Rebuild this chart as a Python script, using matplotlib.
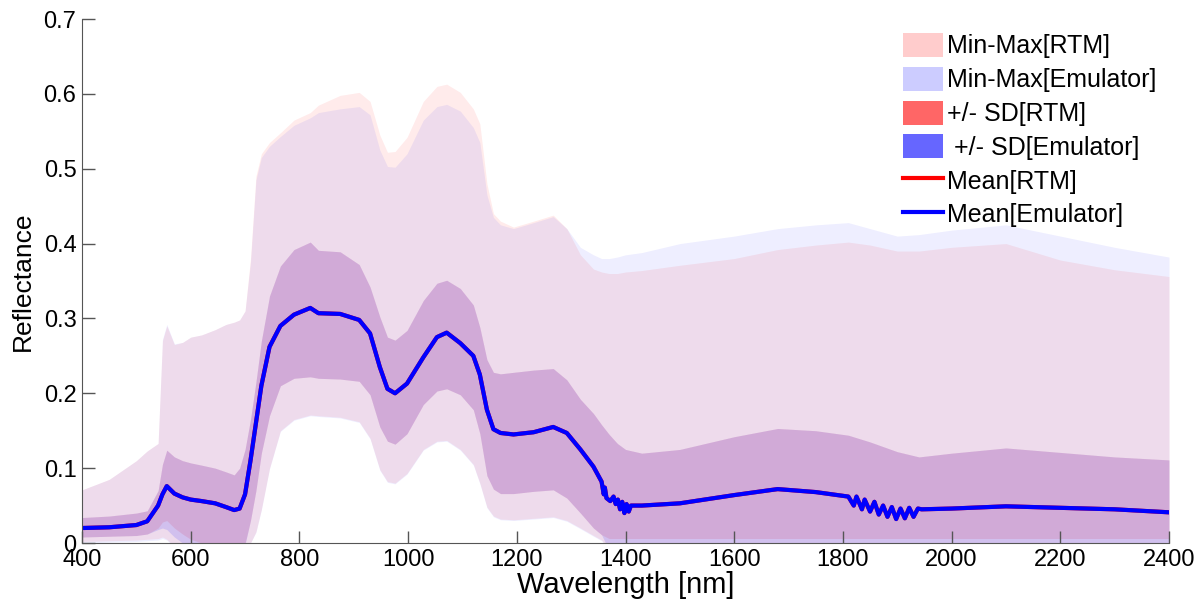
import numpy as np
import matplotlib
matplotlib.use("Agg")
import matplotlib.pyplot as plt
from matplotlib.patches import Patch
from matplotlib.lines import Line2D

plt.rcParams['font.family'] = ['Liberation Sans', 'DejaVu Sans']

# wavelength knots (nm) for the envelope curves
wl = [400, 450, 500, 520, 540, 548, 556, 570, 585, 600, 620, 645, 665, 680, 690,
      700, 710, 720, 730, 745, 765, 790, 820, 835, 875, 910, 930, 948, 962, 976,
      998, 1028, 1053, 1071, 1096, 1120, 1132, 1145, 1157, 1170, 1194, 1231, 1267,
      1292, 1317, 1341, 1356, 1370, 1385, 1400, 1430, 1500, 1600, 1680, 1750, 1810,
      1850, 1900, 1940, 2000, 2100, 2200, 2300, 2400]

max_rtm = [0.071, 0.085, 0.110, 0.123, 0.133, 0.270, 0.290, 0.265, 0.268, 0.275, 0.278,
           0.285, 0.292, 0.295, 0.298, 0.310, 0.380, 0.490, 0.520, 0.535, 0.548, 0.565,
           0.575, 0.585, 0.598, 0.602, 0.590, 0.545, 0.522, 0.523, 0.542, 0.590, 0.610,
           0.613, 0.602, 0.580, 0.560, 0.480, 0.440, 0.430, 0.422, 0.430, 0.438, 0.420,
           0.385, 0.366, 0.362, 0.360, 0.360, 0.362, 0.364, 0.371, 0.380, 0.392, 0.398,
           0.402, 0.398, 0.390, 0.390, 0.395, 0.400, 0.378, 0.365, 0.356]

max_emu = [0.071, 0.085, 0.110, 0.123, 0.133, 0.272, 0.292, 0.266, 0.268, 0.275, 0.278,
           0.285, 0.292, 0.295, 0.298, 0.310, 0.375, 0.485, 0.515, 0.530, 0.543, 0.558,
           0.568, 0.575, 0.580, 0.583, 0.572, 0.525, 0.503, 0.502, 0.520, 0.565, 0.583,
           0.586, 0.577, 0.555, 0.535, 0.465, 0.435, 0.425, 0.420, 0.428, 0.436, 0.420,
           0.395, 0.385, 0.380, 0.380, 0.382, 0.385, 0.388, 0.400, 0.410, 0.420, 0.425,
           0.428, 0.420, 0.410, 0.412, 0.418, 0.425, 0.410, 0.395, 0.382]

min_rtm = [0.002, 0.003, 0.004, 0.005, 0.006, 0.008, 0.005, -0.005, -0.01, -0.01, -0.01,
           -0.01, -0.01, -0.01, -0.01, -0.005, 0.0, 0.015, 0.045, 0.100, 0.150, 0.165,
           0.171, 0.170, 0.168, 0.162, 0.140, 0.098, 0.082, 0.080, 0.093, 0.125, 0.136,
           0.137, 0.125, 0.105, 0.080, 0.048, 0.036, 0.032, 0.031, 0.033, 0.035, 0.030,
           0.020, 0.010, 0.004, -0.01, -0.01, -0.01, -0.01, -0.01, -0.01, -0.01, -0.01,
           -0.01, -0.01, -0.01, -0.01, -0.01, -0.01, -0.01, -0.01, -0.01]

min_emu = [0.0, 0.001, 0.002, 0.003, 0.004, 0.006, 0.004, -0.006, -0.01, -0.01, -0.01,
           -0.01, -0.01, -0.01, -0.01, -0.005, 0.0, 0.014, 0.044, 0.099, 0.149, 0.164,
           0.170, 0.169, 0.167, 0.161, 0.139, 0.097, 0.081, 0.079, 0.092, 0.124, 0.135,
           0.136, 0.124, 0.104, 0.079, 0.047, 0.035, 0.031, 0.030, 0.032, 0.034, 0.029,
           0.019, 0.009, 0.003, -0.01, -0.01, -0.01, -0.01, -0.01, -0.01, -0.01, -0.01,
           -0.01, -0.01, -0.01, -0.01, -0.01, -0.01, -0.01, -0.01, -0.01]

sd_up = [0.034, 0.036, 0.040, 0.043, 0.070, 0.105, 0.124, 0.115, 0.110, 0.107, 0.104,
         0.100, 0.095, 0.091, 0.100, 0.125, 0.165, 0.215, 0.270, 0.330, 0.370, 0.392,
         0.402, 0.391, 0.389, 0.372, 0.342, 0.302, 0.275, 0.271, 0.284, 0.324, 0.347,
         0.351, 0.340, 0.318, 0.288, 0.245, 0.228, 0.226, 0.228, 0.231, 0.233, 0.218,
         0.192, 0.173, 0.158, 0.145, 0.133, 0.125, 0.120, 0.125, 0.142, 0.153, 0.150,
         0.144, 0.135, 0.122, 0.115, 0.120, 0.127, 0.121, 0.115, 0.111]

sd_lo_rtm = [0.008, 0.009, 0.010, 0.012, 0.020, 0.028, 0.030, 0.020, 0.012, 0.005, 0.0,
             -0.005, -0.008, -0.01, -0.01, 0.0, 0.030, 0.070, 0.120, 0.170, 0.210, 0.220,
             0.222, 0.220, 0.219, 0.216, 0.198, 0.155, 0.136, 0.132, 0.146, 0.185, 0.203,
             0.206, 0.198, 0.178, 0.146, 0.090, 0.072, 0.066, 0.066, 0.069, 0.071, 0.060,
             0.040, 0.020, 0.011, 0.006, 0.006, 0.006, 0.006, 0.006, 0.006, 0.006, 0.006,
             0.006, 0.006, 0.006, 0.006, 0.006, 0.006, 0.006, 0.006, 0.006]

sd_lo_emu = [0.008, 0.009, 0.010, 0.012, 0.018, 0.020, 0.018, 0.008, 0.0, -0.005, -0.01,
             -0.012, -0.014, -0.015, -0.012, -0.002, 0.030, 0.070, 0.120, 0.170, 0.210, 0.220,
             0.222, 0.220, 0.219, 0.216, 0.198, 0.155, 0.136, 0.132, 0.146, 0.185, 0.203,
             0.206, 0.198, 0.178, 0.146, 0.090, 0.072, 0.066, 0.066, 0.069, 0.071, 0.060,
             0.040, 0.020, 0.011, -0.01, -0.01, -0.01, -0.01, -0.01, -0.01, -0.01, -0.01,
             -0.01, -0.01, -0.01, -0.01, -0.01, -0.01, -0.01, -0.01, -0.01]

# mean spectrum, own knots (noisy water-absorption regions)
mean_wl = [400, 450, 500, 520, 540, 548, 556, 570, 585, 600, 620, 645, 665, 680, 690,
           700, 710, 720, 730, 745, 765, 790, 820, 835, 875, 910, 930, 948, 962, 976,
           998, 1028, 1053, 1071, 1096, 1120, 1132, 1145, 1157, 1170, 1194, 1231, 1267,
           1292, 1317, 1341, 1356, 1360, 1362, 1365, 1372, 1378, 1382, 1386, 1390, 1394,
           1398, 1402, 1406, 1410, 1430, 1500, 1600, 1680, 1750, 1810, 1820, 1825, 1835,
           1840, 1850, 1858, 1866, 1874, 1882, 1890, 1898, 1906, 1914, 1922, 1930, 1938,
           1945, 2000, 2100, 2200, 2300, 2400]
mean_rtm = [0.020, 0.021, 0.024, 0.029, 0.050, 0.065, 0.076, 0.066, 0.061, 0.058, 0.056,
            0.053, 0.048, 0.044, 0.046, 0.065, 0.110, 0.160, 0.210, 0.262, 0.290, 0.305,
            0.314, 0.307, 0.306, 0.298, 0.280, 0.235, 0.206, 0.200, 0.213, 0.248, 0.275,
            0.281, 0.267, 0.250, 0.225, 0.178, 0.152, 0.147, 0.145, 0.148, 0.155, 0.147,
            0.125, 0.102, 0.082, 0.065, 0.074, 0.060, 0.056, 0.062, 0.052, 0.058, 0.045,
            0.055, 0.040, 0.052, 0.042, 0.050, 0.050, 0.053, 0.064, 0.072, 0.068, 0.062,
            0.050, 0.062, 0.045, 0.058, 0.042, 0.055, 0.038, 0.050, 0.035, 0.048, 0.032,
            0.046, 0.033, 0.047, 0.035, 0.046, 0.045, 0.046, 0.049, 0.047, 0.045, 0.041]
mean_emu = mean_rtm

labels = ['Min-Max[RTM]', 'Min-Max[Emulator]', '+/- SD[RTM]', ' +/- SD[Emulator]',
          'Mean[RTM]', 'Mean[Emulator]']

fig = plt.figure(figsize=(12.02, 6.05), dpi=100)
ax = fig.add_axes([82 / 1202, 62 / 605, 1087 / 1202, 524 / 605])

ax.fill_between(wl, min_rtm, max_rtm, color='red', alpha=0.08, lw=0)
ax.fill_between(wl, min_emu, max_emu, color='blue', alpha=0.065, lw=0)
ax.fill_between(wl, sd_lo_rtm, sd_up, color='red', alpha=0.11, lw=0)
ax.fill_between(wl, sd_lo_emu, sd_up, color='blue', alpha=0.12, lw=0)
ax.plot(mean_wl, mean_rtm, color='red', lw=3)
ax.plot(mean_wl, mean_emu, color='blue', lw=3)

ax.set_xlim(400, 2400)
ax.set_ylim(0, 0.7)
ax.set_xticks(np.arange(400, 2401, 200))
ax.set_yticks(np.arange(0, 0.71, 0.1))
ax.set_yticklabels(['0', '0.1', '0.2', '0.3', '0.4', '0.5', '0.6', '0.7'])
for s in ['top', 'right']:
    ax.spines[s].set_visible(False)
for s in ['left', 'bottom']:
    ax.spines[s].set_color('#555555')
ax.tick_params(direction='in', length=9, width=1, color='#555555', labelsize=17,
               pad=4)
ax.set_xlabel('Wavelength [nm]', fontsize=21, labelpad=0)
ax.set_ylabel('Reflectance', fontsize=19, labelpad=6)

handles = [Patch(facecolor='#FFCCCC', edgecolor='none'),
           Patch(facecolor='#CCCCFF', edgecolor='none'),
           Patch(facecolor='#FF6666', edgecolor='none'),
           Patch(facecolor='#6666FF', edgecolor='none'),
           Line2D([], [], color='red', lw=3),
           Line2D([], [], color='blue', lw=3)]
fig.legend(handles, labels, loc='upper left', bbox_to_anchor=(903 / 1202, 1 - 33 / 605),
           frameon=False, fontsize=18, handlelength=1.6, handleheight=1.1,
           handletextpad=0.15, labelspacing=0.33, borderpad=0, borderaxespad=0)

fig.savefig('out.png', dpi=100)
